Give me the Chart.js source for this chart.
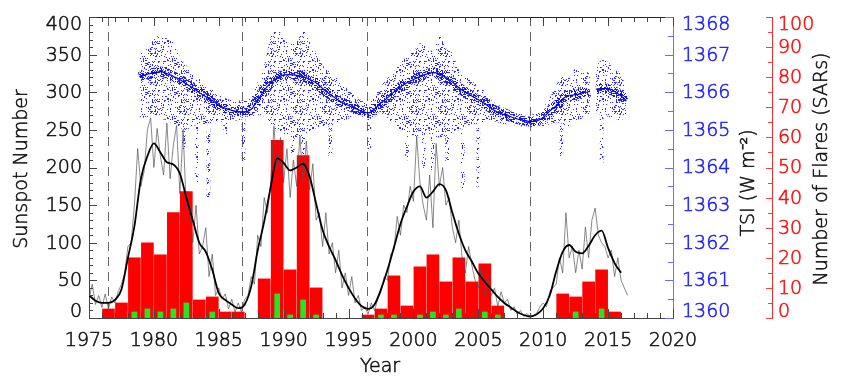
<!DOCTYPE html>
<html>
<head>
<meta charset="utf-8">
<script src="https://cdn.jsdelivr.net/npm/chart.js@4.4.1/dist/chart.umd.min.js"></script>
<style>
  html, body { margin: 0; padding: 0; background: #fff; }
</style>
</head>
<body>
<canvas id="chart" width="865" height="379"></canvas>
<script>
// sunspot number, thin line, quarterly samples from 1975.0
const ssnRaw = [
  25, 45, 18, 30,   14, 32, 12, 28,   20, 35, 45, 60,   95, 100, 150, 225,
  175, 195, 250, 266,   200, 252, 215, 190,   259, 185, 230, 256,   165, 250, 145, 150,
  100, 150, 85, 95,   120, 55, 85, 30,   40, 25, 32, 12,   25, 8, 20, 8,
  25, 30, 55, 45,   110, 95, 160, 140,   180, 255, 195, 240,   180, 225, 160, 210,
  175, 241, 180, 235,   170, 205, 130, 140,   95, 140, 85, 100,   60, 90, 40, 60,
  30, 55, 20, 30,   10, 15, 5, 20,   10, 25, 35, 55,   50, 85, 90, 135,
  110, 150, 140, 175,   155, 241, 180, 150,   130, 190, 120, 232,   175, 200, 150, 160,
  120, 100, 130, 80,   60, 95, 70, 50,   40, 70, 30, 55,   30, 40, 15, 35,
  20, 25, 10, 15,   5, 10, 2, 6,   1, 3, 6, 15,   20, 15, 35, 40,
  45, 80, 60, 140,   80, 95, 60, 90,   65, 121, 80, 130,   146, 110, 100, 95,
  80, 90, 55, 80,   50, 40, 30
];
// smoothed sunspot number, half-yearly from 1975.0
const ssnSmooth = [
  30, 23, 20, 20, 24, 38, 80, 122, 185, 215, 232, 220, 207, 204, 192, 160,
  130, 100, 88, 64, 33, 24, 18, 13, 18, 42, 90, 128, 174, 212, 206, 196,
  200, 205, 188, 152, 117, 95, 77, 57, 40, 26, 16, 12, 18, 38, 64, 94,
  125, 148, 168, 175, 160, 168, 178, 170, 140, 112, 90, 75, 59, 48, 38, 28,
  20, 14, 8, 4, 2, 5, 13, 30, 62, 88, 97, 88, 86, 96, 110, 116,
  93, 73, 60
];

// TSI cloud: centre, upper and lower edge of the daily dots
const tsiYears = [
  1978.9, 1979.5, 1980.0, 1980.5, 1981.0, 1981.5, 1982.0, 1982.5, 1983.0, 1983.5,
  1984.0, 1984.5, 1985.0, 1985.5, 1986.0, 1986.5, 1987.0, 1987.5, 1988.0, 1988.5,
  1989.0, 1989.5, 1990.0, 1990.5, 1991.0, 1991.5, 1992.0, 1992.5, 1993.0, 1993.5,
  1994.0, 1994.5, 1995.0, 1995.5, 1996.0, 1996.5, 1997.0, 1997.5, 1998.0, 1998.5,
  1999.0, 1999.5, 2000.0, 2000.5, 2001.0, 2001.5, 2002.0, 2002.5, 2003.0, 2003.5,
  2004.0, 2004.5, 2005.0, 2005.5, 2006.0, 2006.5, 2007.0, 2007.5, 2008.0, 2008.5,
  2009.0, 2009.5, 2010.0, 2010.5, 2011.0, 2011.5, 2012.0, 2012.5, 2013.0, 2013.6,
  2013.85, 2014.05, 2014.5, 2015.0, 2015.5, 2016.0, 2016.4
];
const tsiMid = [
  1366.40, 1366.48, 1366.52, 1366.55, 1366.50, 1366.42, 1366.34, 1366.22, 1366.12, 1365.99,
  1365.88, 1365.78, 1365.66, 1365.57, 1365.52, 1365.48, 1365.48, 1365.55, 1365.79, 1366.05,
  1366.25, 1366.38, 1366.46, 1366.47, 1366.45, 1366.42, 1366.34, 1366.25, 1366.10, 1365.96,
  1365.84, 1365.73, 1365.65, 1365.57, 1365.50, 1365.45, 1365.55, 1365.72, 1365.85, 1366.01,
  1366.14, 1366.25, 1366.34, 1366.42, 1366.48, 1366.52, 1366.49, 1366.40, 1366.27, 1366.12,
  1366.00, 1365.90, 1365.80, 1365.70, 1365.57, 1365.47, 1365.40, 1365.35, 1365.29, 1365.25,
  1365.22, 1365.24, 1365.33, 1365.50, 1365.64, 1365.82, 1365.92, 1365.93, 1365.98, 1366.02,
  null, 1366.08, 1366.10, 1366.10, 1366.02, 1365.90, 1365.78
];
const tsiHigh = [
  1367.00, 1367.17, 1367.40, 1367.52, 1367.43, 1367.34, 1366.95, 1366.72, 1366.50, 1366.35,
  1366.25, 1366.10, 1365.95, 1365.85, 1365.79, 1365.78, 1365.78, 1365.86, 1366.28, 1366.72,
  1367.45, 1367.72, 1367.40, 1367.30, 1367.43, 1367.65, 1367.34, 1367.05, 1366.72, 1366.55,
  1366.40, 1366.25, 1366.05, 1365.90, 1365.79, 1365.71, 1365.90, 1366.15, 1366.37, 1366.55,
  1366.78, 1366.95, 1367.08, 1367.30, 1367.20, 1367.10, 1367.52, 1367.17, 1367.04, 1366.60,
  1366.42, 1366.30, 1366.15, 1366.02, 1365.79, 1365.68, 1365.58, 1365.53, 1365.46, 1365.42,
  1365.40, 1365.45, 1365.60, 1365.85, 1366.19, 1366.42, 1366.40, 1366.64, 1366.59, 1366.50,
  null, 1366.68, 1366.85, 1366.80, 1366.60, 1366.50, 1366.05
];
const tsiLow = [
  1365.30, 1365.35, 1365.40, 1365.30, 1365.25, 1365.15, 1365.05, 1365.00, 1365.10, 1365.15,
  1365.15, 1365.20, 1365.20, 1365.25, 1365.25, 1365.25, 1365.30, 1365.35, 1365.40, 1365.35,
  1365.15, 1364.95, 1364.90, 1364.85, 1364.80, 1364.85, 1364.95, 1365.05, 1365.10, 1365.10,
  1365.15, 1365.20, 1365.30, 1365.35, 1365.35, 1365.30, 1365.35, 1365.40, 1365.30, 1365.15,
  1365.00, 1364.90, 1364.85, 1364.80, 1364.90, 1364.85, 1364.80, 1364.85, 1364.90, 1365.00,
  1365.10, 1365.15, 1365.15, 1365.20, 1365.25, 1365.20, 1365.15, 1365.15, 1365.10, 1365.08,
  1365.05, 1365.08, 1365.10, 1365.15, 1365.20, 1365.15, 1365.10, 1365.25, 1365.30, 1365.40,
  null, 1365.45, 1365.40, 1365.35, 1365.30, 1365.25, 1365.40
];
// sparse streaks of low TSI days below the cloud
const dipYears = [1982.3, 1983.3, 1984.2, 1985.5, 1986.9, 1990.7, 1991.5, 1993.6, 1996.6,
                  1999.5, 2000.8, 2001.5, 2002.6, 2003.8, 2005.0, 2011.4, 2014.5];
const dipLow   = [1364.5, 1363.6, 1363.2, 1364.8, 1364.1, 1364.4, 1364.3, 1364.3, 1364.5,
                  1364.2, 1364.0, 1363.9, 1364.1, 1363.4, 1363.5, 1364.3, 1364.1];
const dipHigh  = [1365.0, 1365.1, 1365.1, 1365.2, 1365.3, 1364.9, 1364.9, 1365.1, 1365.3,
                  1364.9, 1364.8, 1364.9, 1364.9, 1365.0, 1365.1, 1365.1, 1365.4];

// yearly flare counts (red) and SARs (green)
const flareYears  = [1976, 1977, 1978, 1979, 1980, 1981, 1982, 1983, 1984, 1985, 1986,
                     1988, 1989, 1990, 1991, 1992, 1996, 1997, 1998, 1999, 2000, 2001,
                     2002, 2003, 2004, 2005, 2006, 2011, 2012, 2013, 2014, 2015];
const flareCounts = [3, 5, 20, 25, 21, 35, 42, 6, 7, 2, 2,
                     13, 59, 16, 54, 10, 1, 3, 14, 4, 17, 21,
                     12, 20, 12, 18, 4, 8, 7, 12, 16, 2];
const sarYears  = [1978, 1979, 1980, 1981, 1982, 1984, 1989, 1990, 1991, 1992,
                   1997, 1998, 2000, 2001, 2002, 2003, 2005, 2006, 2012, 2014];
const sarCounts = [2, 3, 2, 3, 5, 2, 8, 1, 6, 1,
                   1, 1, 1, 2, 1, 3, 2, 1, 2, 3];

const cycleMinima = [1976.5, 1986.8, 1996.4, 2009.0];

const FONT = '300 19px "DejaVu Sans", sans-serif';
const INK = '#111';
const TSI_BLUE = '#1c1cff';
const FLARE_RED = '#ff0a0a';

function dotPattern(size, density, color) {
  const c = document.createElement('canvas');
  c.width = c.height = size;
  const g = c.getContext('2d');
  g.fillStyle = color;
  for (let i = 0; i < size; i++) {
    for (let j = 0; j < size; j++) {
      const h = Math.sin(i * 12.9898 + j * 78.233) * 43758.5453;
      if (h - Math.floor(h) < density) g.fillRect(i, j, 1, 1);
    }
  }
  return g.createPattern(c, 'repeat');
}
const sparseDots = dotPattern(29, 0.16, '#2a2aff');
const denseDots = dotPattern(23, 0.36, '#1414f0');

const xy = (xs, ys) => xs.map((x, i) => ({ x, y: ys[i] }));
const ssnRawPts = ssnRaw.map((v, i) => ({ x: 1975 + i * 0.25, y: v }));
const ssnSmoothPts = ssnSmooth.map((v, i) => ({ x: 1975 + i * 0.5, y: v }));

function fitTo(size) {
  return scale => {
    if (scale.isHorizontal()) scale.height = size; else scale.width = size;
  };
}

// light font plus a hairline stroke, close to the IDL vector font weight
function label(ctx, s, x, y, color) {
  ctx.fillStyle = color;
  ctx.strokeStyle = color;
  ctx.lineWidth = 0.55;
  ctx.fillText(s, x, y);
  ctx.strokeText(s, x, y);
}

const idlAxes = {
  id: 'idlAxes',
  beforeDatasetsDraw(chart) {
    const { ctx, chartArea: a, scales: { x } } = chart;
    ctx.save();
    ctx.strokeStyle = '#666';
    ctx.lineWidth = 1;
    ctx.setLineDash([9, 6]);
    cycleMinima.forEach(yr => {
      const px = Math.round(x.getPixelForValue(yr)) + 0.5;
      ctx.beginPath();
      ctx.moveTo(px, a.top);
      ctx.lineTo(px, a.bottom);
      ctx.stroke();
    });
    ctx.restore();
  },
  afterDraw(chart) {
    const { ctx, chartArea: a, scales: { x, ssn, tsi, flares } } = chart;
    ctx.save();
    ctx.lineWidth = 1;

    ctx.strokeStyle = '#222';
    ctx.beginPath();
    ctx.moveTo(a.left, a.top + 0.5);
    ctx.lineTo(a.right, a.top + 0.5);
    ctx.stroke();

    // inward ticks
    ctx.strokeStyle = '#444';
    ctx.beginPath();
    for (let yr = 1975; yr <= 2020; yr++) {
      const px = Math.round(x.getPixelForValue(yr)) + 0.5;
      const len = yr % 5 === 0 ? 9 : 5;
      ctx.moveTo(px, a.bottom); ctx.lineTo(px, a.bottom - len);
      ctx.moveTo(px, a.top); ctx.lineTo(px, a.top + len);
    }
    for (let v = 0; v <= 400; v += 10) {
      const py = Math.round(ssn.getPixelForValue(v)) + 0.5;
      ctx.moveTo(a.left, py); ctx.lineTo(a.left + (v % 50 === 0 ? 8 : 4), py);
    }
    ctx.stroke();

    ctx.strokeStyle = '#6a6aff';
    ctx.beginPath();
    for (let k = 0; k <= 16; k++) {
      const py = Math.round(tsi.getPixelForValue(1360 + k / 2)) + 0.5;
      ctx.moveTo(a.right, py); ctx.lineTo(a.right - (k % 2 === 0 ? 8 : 5), py);
    }
    ctx.stroke();

    ctx.strokeStyle = '#f04040';
    ctx.beginPath();
    for (let v = 0; v <= 100; v += 5) {
      const py = Math.round(flares.getPixelForValue(v)) + 0.5;
      ctx.moveTo(flares.left, py); ctx.lineTo(flares.left - (v % 10 === 0 ? 6 : 4), py);
    }
    ctx.stroke();

    // tick labels, kept inside the axis range like IDL does
    ctx.font = FONT;
    ctx.textBaseline = 'middle';
    const clampY = py => Math.min(Math.max(py + 1, a.top + 8), a.bottom - 6);

    ctx.textAlign = 'center';
    x.ticks.forEach(t => label(ctx, String(t.value), x.getPixelForValue(t.value), 341, INK));

    ctx.textAlign = 'right';
    ssn.ticks.forEach(t => label(ctx, String(t.value), a.left - 7, clampY(ssn.getPixelForValue(t.value)), INK));

    ctx.textAlign = 'left';
    tsi.ticks.forEach(t => label(ctx, String(t.value), a.right + 9, clampY(tsi.getPixelForValue(t.value)), TSI_BLUE));
    flares.ticks.forEach(t => label(ctx, String(t.value), flares.left + 6, clampY(flares.getPixelForValue(t.value)), FLARE_RED));

    // axis titles
    ctx.textAlign = 'center';
    label(ctx, 'Year', 380, 367, INK);
    const vtitle = (s, cx, cy) => {
      ctx.save();
      ctx.translate(cx, cy);
      ctx.rotate(-Math.PI / 2);
      label(ctx, s, 0, 0, INK);
      ctx.restore();
    };
    vtitle('Sunspot Number', 22, 169);
    vtitle('TSI (W m\u207B\u00B2)', 749, 183);
    vtitle('Number of Flares (SARs)', 822, 169);
    ctx.restore();
  }
};

new Chart(document.getElementById('chart'), {
  type: 'bar',
  data: {
    datasets: [
      {
        type: 'line', label: 'SSN smoothed', data: ssnSmoothPts, yAxisID: 'ssn', order: 1,
        borderColor: '#000', borderWidth: 1.8, pointRadius: 0, cubicInterpolationMode: 'monotone'
      },
      {
        type: 'line', label: 'SSN monthly', data: ssnRawPts, yAxisID: 'ssn', order: 2,
        borderColor: 'rgba(80,80,80,0.85)', borderWidth: 0.8, pointRadius: 0, tension: 0
      },
      {
        type: 'line', label: 'TSI mean', data: xy(tsiYears, tsiMid), yAxisID: 'tsi', order: 5,
        borderColor: '#0000dc', borderWidth: 1.2, pointRadius: 0, cubicInterpolationMode: 'monotone'
      },
      {
        type: 'line', label: 'TSI core', data: xy(tsiYears, tsiMid), yAxisID: 'tsi', order: 6,
        borderColor: denseDots, borderWidth: 10, pointRadius: 0, cubicInterpolationMode: 'monotone'
      },
      {
        type: 'line', label: 'TSI low', data: xy(tsiYears, tsiLow), yAxisID: 'tsi', order: 8,
        borderWidth: 0, pointRadius: 0, tension: 0.3
      },
      {
        type: 'line', label: 'TSI high', data: xy(tsiYears, tsiHigh), yAxisID: 'tsi', order: 7,
        borderWidth: 0, pointRadius: 0, tension: 0.3, fill: '-1', backgroundColor: sparseDots
      },
      {
        type: 'bar', label: 'TSI dips', yAxisID: 'tsi', order: 7, grouped: false, barThickness: 3,
        data: dipYears.map((x, i) => ({ x, y: [dipLow[i], dipHigh[i]] })),
        backgroundColor: sparseDots
      },
      {
        type: 'bar', label: 'SARs', yAxisID: 'flares', order: 9, grouped: false, barThickness: 5,
        data: sarYears.map((yr, i) => ({ x: yr + 0.5, y: sarCounts[i] })),
        backgroundColor: '#22e622'
      },
      {
        type: 'bar', label: 'Flares', yAxisID: 'flares', order: 10, grouped: false, barThickness: 12,
        data: flareYears.map((yr, i) => ({ x: yr + 0.5, y: flareCounts[i] })),
        backgroundColor: '#ff0000'
      }
    ]
  },
  options: {
    responsive: false,
    animation: false,
    events: [],
    devicePixelRatio: 1,
    layout: { padding: { top: 17, left: 0, right: 0, bottom: 0 } },
    plugins: { legend: { display: false }, tooltip: { enabled: false } },
    scales: {
      ssn: {
        position: 'left', min: 0, max: 400,
        ticks: { display: false, stepSize: 50 },
        grid: { display: false, drawTicks: false },
        border: { display: true, color: '#444' },
        afterFit: fitTo(89)
      },
      tsi: {
        position: 'right', min: 1360, max: 1368,
        ticks: { display: false, stepSize: 1 },
        grid: { display: false, drawTicks: false },
        border: { display: true, color: '#7070ff' },
        afterFit: fitTo(99)
      },
      flares: {
        position: 'right', min: 0, max: 100,
        ticks: { display: false, stepSize: 10 },
        grid: { display: false, drawTicks: false },
        border: { display: true, color: '#f03030' },
        afterFit: fitTo(93)
      },
      x: {
        type: 'linear', position: 'bottom', min: 1975, max: 2020, offset: false,
        ticks: { display: false, stepSize: 5 },
        grid: { display: false, drawTicks: false, offset: false },
        border: { display: true, color: '#444' },
        afterFit: fitTo(61)
      }
    }
  },
  plugins: [idlAxes]
});
</script>
</body>
</html>
